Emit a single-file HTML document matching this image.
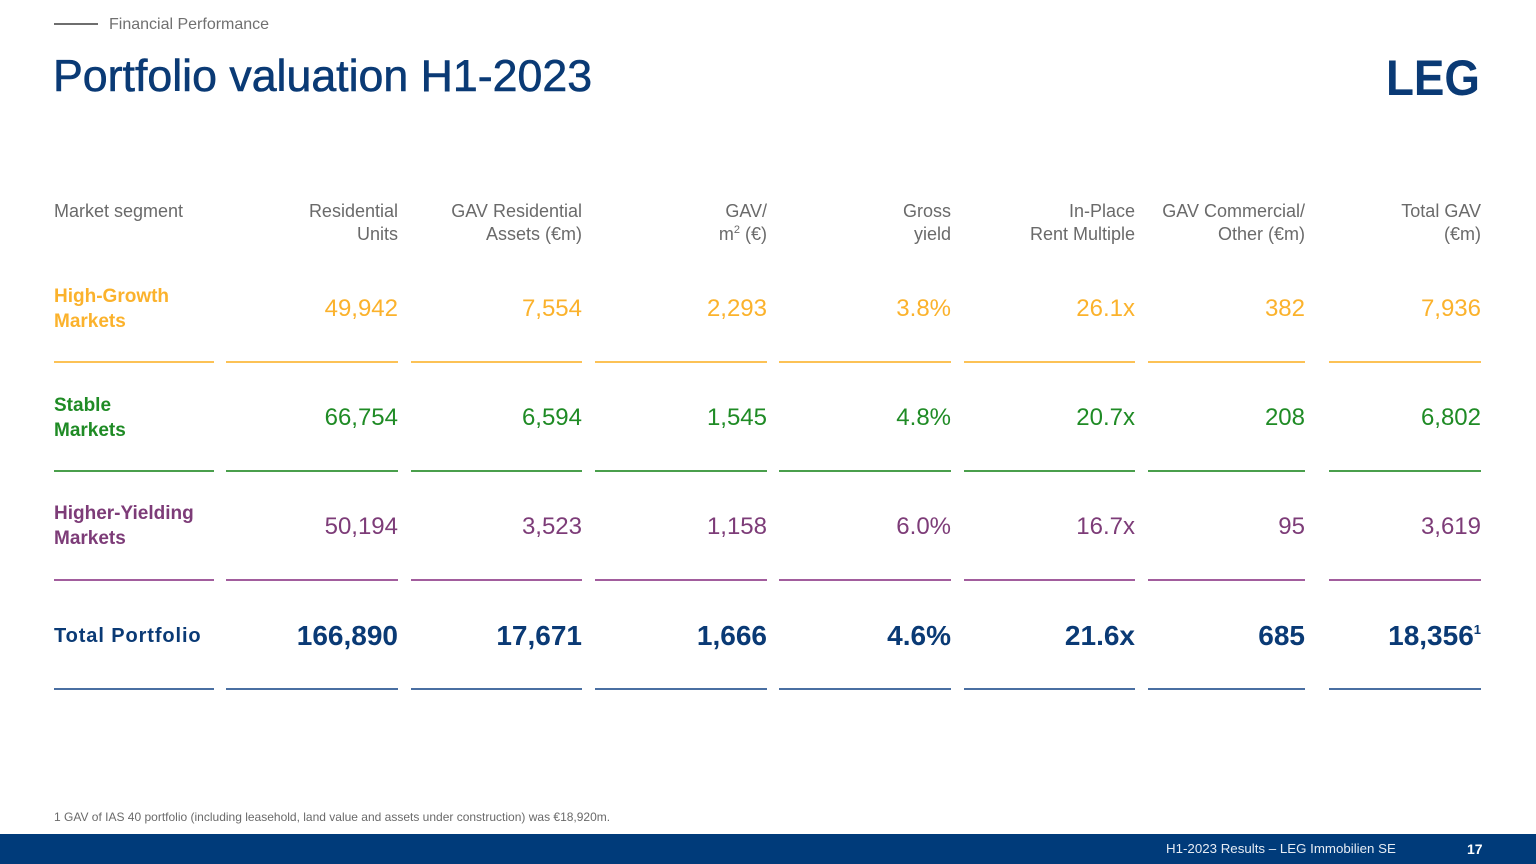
<!DOCTYPE html>
<html><head><meta charset="utf-8">
<style>
*{margin:0;padding:0;box-sizing:border-box}
body{width:1536px;height:864px;position:relative;background:#fff;font-family:"Liberation Sans",sans-serif;overflow:hidden}
.a{position:absolute;white-space:nowrap}
.hd{color:#6a6a6a;font-size:18px;line-height:23px;text-align:right}
.v{font-size:24px;line-height:30px;text-align:right}
.lab{font-size:19px;line-height:25px;font-weight:bold}
.tot{font-size:28px;line-height:32px;font-weight:bold;text-align:right;color:#0a3a75}
.ln{position:absolute;height:1.5px}
.o{color:#fbb22c}.g{color:#1f8b25}.p{color:#7d3c78}
</style></head><body>
<div class="a" style="left:54px;top:23px;width:44px;height:2px;background:#6e6e6e"></div>
<div class="a" style="left:109px;top:15px;font-size:16px;line-height:20px;color:#707070">Financial Performance</div>
<div class="a" style="left:53px;top:51px;font-size:44.7px;line-height:52px;color:#0a3a75;-webkit-text-stroke:0.6px #0a3a75">Portfolio valuation H1-2023</div>
<svg class="a" style="left:1384px;top:52px" width="100" height="48"><text x="2" y="43" font-family="Liberation Sans" font-weight="bold" font-size="50" fill="#0a3a75" textLength="94" lengthAdjust="spacingAndGlyphs">LEG</text></svg>

<!-- headers -->
<div class="a hd" style="left:54px;top:200px;text-align:left">Market segment</div>
<div class="a hd" style="right:1138px;top:200px">Residential<br>Units</div>
<div class="a hd" style="right:954px;top:200px">GAV Residential<br>Assets (€m)</div>
<div class="a hd" style="right:769px;top:200px">GAV/<br>m<sup style="font-size:11px;vertical-align:7px;line-height:0">2</sup> (€)</div>
<div class="a hd" style="right:585px;top:200px">Gross<br>yield</div>
<div class="a hd" style="right:401px;top:200px">In-Place<br>Rent Multiple</div>
<div class="a hd" style="right:231px;top:200px">GAV Commercial/<br>Other (€m)</div>
<div class="a hd" style="right:55px;top:200px">Total GAV<br>(€m)</div>

<!-- row 1 -->
<div class="a lab o" style="left:54px;top:284px">High-Growth<br>Markets</div>
<div class="a v o" style="right:1138px;top:294px">49,942</div>
<div class="a v o" style="right:954px;top:294px">7,554</div>
<div class="a v o" style="right:769px;top:294px">2,293</div>
<div class="a v o" style="right:585px;top:294px">3.8%</div>
<div class="a v o" style="right:401px;top:294px">26.1x</div>
<div class="a v o" style="right:231px;top:294px">382</div>
<div class="a v o" style="right:55px;top:294px">7,936</div>

<!-- row 2 -->
<div class="a lab g" style="left:54px;top:393px">Stable<br>Markets</div>
<div class="a v g" style="right:1138px;top:403px">66,754</div>
<div class="a v g" style="right:954px;top:403px">6,594</div>
<div class="a v g" style="right:769px;top:403px">1,545</div>
<div class="a v g" style="right:585px;top:403px">4.8%</div>
<div class="a v g" style="right:401px;top:403px">20.7x</div>
<div class="a v g" style="right:231px;top:403px">208</div>
<div class="a v g" style="right:55px;top:403px">6,802</div>

<!-- row 3 -->
<div class="a lab p" style="left:54px;top:501px">Higher-Yielding<br>Markets</div>
<div class="a v p" style="right:1138px;top:512px">50,194</div>
<div class="a v p" style="right:954px;top:512px">3,523</div>
<div class="a v p" style="right:769px;top:512px">1,158</div>
<div class="a v p" style="right:585px;top:512px">6.0%</div>
<div class="a v p" style="right:401px;top:512px">16.7x</div>
<div class="a v p" style="right:231px;top:512px">95</div>
<div class="a v p" style="right:55px;top:512px">3,619</div>

<!-- total -->
<div class="a lab" style="left:54px;top:624px;font-size:20px;color:#0a3a75;letter-spacing:0.9px">Total Portfolio</div>
<div class="a tot" style="right:1138px;top:620px">166,890</div>
<div class="a tot" style="right:954px;top:620px">17,671</div>
<div class="a tot" style="right:769px;top:620px">1,666</div>
<div class="a tot" style="right:585px;top:620px">4.6%</div>
<div class="a tot" style="right:401px;top:620px">21.6x</div>
<div class="a tot" style="right:231px;top:620px">685</div>
<div class="a tot" style="right:55px;top:620px">18,356<sup style="font-size:13px;vertical-align:11px;line-height:0">1</sup></div>

<!-- lines -->
<div class="ln" style="left:54px;width:160px;top:361px;background:#fcc256"></div>
<div class="ln" style="left:226px;width:172px;top:361px;background:#fcc256"></div>
<div class="ln" style="left:411px;width:171px;top:361px;background:#fcc256"></div>
<div class="ln" style="left:595px;width:172px;top:361px;background:#fcc256"></div>
<div class="ln" style="left:779px;width:172px;top:361px;background:#fcc256"></div>
<div class="ln" style="left:964px;width:171px;top:361px;background:#fcc256"></div>
<div class="ln" style="left:1148px;width:157px;top:361px;background:#fcc256"></div>
<div class="ln" style="left:1329px;width:152px;top:361px;background:#fcc256"></div>

<div class="ln" style="left:54px;width:160px;top:470px;background:#4a9f4c"></div>
<div class="ln" style="left:226px;width:172px;top:470px;background:#4a9f4c"></div>
<div class="ln" style="left:411px;width:171px;top:470px;background:#4a9f4c"></div>
<div class="ln" style="left:595px;width:172px;top:470px;background:#4a9f4c"></div>
<div class="ln" style="left:779px;width:172px;top:470px;background:#4a9f4c"></div>
<div class="ln" style="left:964px;width:171px;top:470px;background:#4a9f4c"></div>
<div class="ln" style="left:1148px;width:157px;top:470px;background:#4a9f4c"></div>
<div class="ln" style="left:1329px;width:152px;top:470px;background:#4a9f4c"></div>

<div class="ln" style="left:54px;width:160px;top:579px;background:#a25d9d"></div>
<div class="ln" style="left:226px;width:172px;top:579px;background:#a25d9d"></div>
<div class="ln" style="left:411px;width:171px;top:579px;background:#a25d9d"></div>
<div class="ln" style="left:595px;width:172px;top:579px;background:#a25d9d"></div>
<div class="ln" style="left:779px;width:172px;top:579px;background:#a25d9d"></div>
<div class="ln" style="left:964px;width:171px;top:579px;background:#a25d9d"></div>
<div class="ln" style="left:1148px;width:157px;top:579px;background:#a25d9d"></div>
<div class="ln" style="left:1329px;width:152px;top:579px;background:#a25d9d"></div>

<div class="ln" style="left:54px;width:160px;top:688px;background:#4a6fa2"></div>
<div class="ln" style="left:226px;width:172px;top:688px;background:#4a6fa2"></div>
<div class="ln" style="left:411px;width:171px;top:688px;background:#4a6fa2"></div>
<div class="ln" style="left:595px;width:172px;top:688px;background:#4a6fa2"></div>
<div class="ln" style="left:779px;width:172px;top:688px;background:#4a6fa2"></div>
<div class="ln" style="left:964px;width:171px;top:688px;background:#4a6fa2"></div>
<div class="ln" style="left:1148px;width:157px;top:688px;background:#4a6fa2"></div>
<div class="ln" style="left:1329px;width:152px;top:688px;background:#4a6fa2"></div>

<div class="a" style="left:54px;top:809px;font-size:12px;line-height:16px;color:#6a6a6a">1 GAV of IAS 40 portfolio (including leasehold, land value and assets under construction) was €18,920m.</div>

<div class="a" style="left:0;top:834px;width:1536px;height:30px;background:#003b7a"></div>
<div class="a" style="left:1166px;top:840px;font-size:13.3px;line-height:18px;color:#e6ecf4">H1-2023 Results – LEG Immobilien SE</div>
<div class="a" style="left:1467px;top:840px;font-size:14px;line-height:18px;color:#fff;font-weight:bold">17</div>
</body></html>
